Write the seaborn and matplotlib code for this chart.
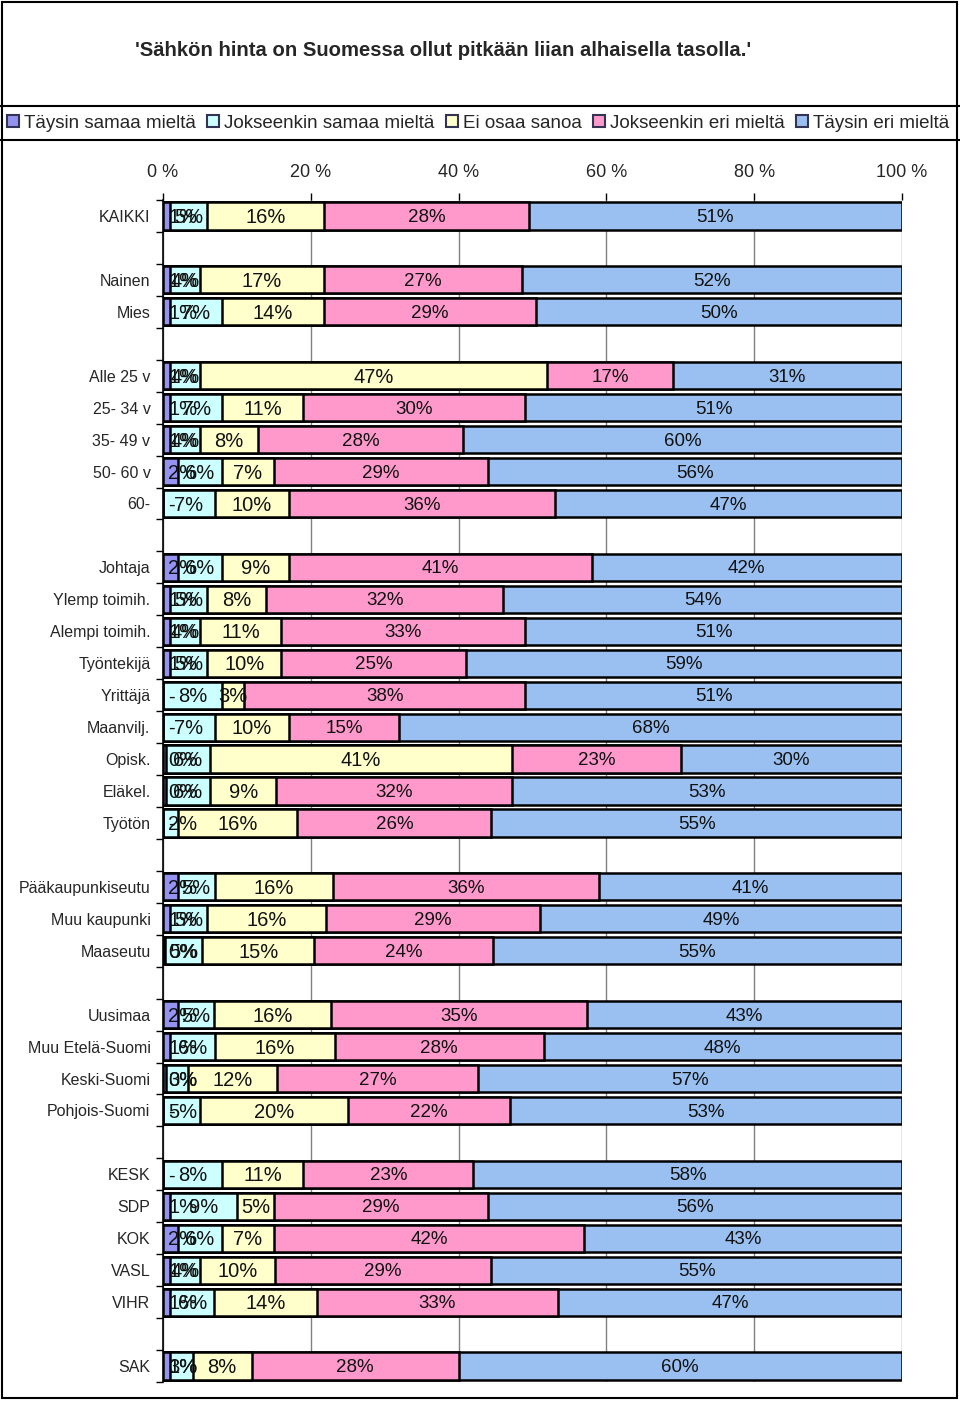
import numpy as np
import pandas as pd
import seaborn as sns
import matplotlib.pyplot as plt
from matplotlib.patches import Patch, Rectangle
from matplotlib.lines import Line2D

title = "'Sähkön hinta on Suomessa ollut pitkään liian alhaisella tasolla.'"
series_names = ['Täysin samaa mieltä', 'Jokseenkin samaa mieltä', 'Ei osaa sanoa',
                'Jokseenkin eri mieltä', 'Täysin eri mieltä']
colors = ['#9494F0', '#CCFFFF', '#FFFFCC', '#FF99CC', '#99C0F0']

categories = ['KAIKKI',
              'Nainen', 'Mies',
              'Alle 25 v', '25- 34 v', '35- 49 v', '50- 60 v', '60-',
              'Johtaja', 'Ylemp toimih.', 'Alempi toimih.', 'Työntekijä', 'Yrittäjä',
              'Maanvilj.', 'Opisk.', 'Eläkel.', 'Työtön',
              'Pääkaupunkiseutu', 'Muu kaupunki', 'Maaseutu',
              'Uusimaa', 'Muu Etelä-Suomi', 'Keski-Suomi', 'Pohjois-Suomi',
              'KESK', 'SDP', 'KOK', 'VASL', 'VIHR',
              'SAK']
# rows per block, an empty row sits between blocks
group_sizes = [1, 2, 5, 9, 3, 4, 5, 1]

taysin_samaa = [1, 1, 1, 1, 1, 1, 2, 0, 2, 1, 1, 1, 0, 0, 0.4, 0.4, 0,
                2, 1, 0.3, 2, 1, 0.4, 0, 0, 1, 2, 1, 1, 1]
jokseenkin_samaa = [5, 4, 7, 4, 7, 4, 6, 7, 6, 5, 4, 5, 8, 7, 6, 6, 2,
                    5, 5, 5, 5, 6, 3, 5, 8, 9, 6, 4, 6, 3]
ei_osaa = [16, 17, 14, 47, 11, 8, 7, 10, 9, 8, 11, 10, 3, 10, 41, 9, 16,
           16, 16, 15, 16, 16, 12, 20, 11, 5, 7, 10, 14, 8]
jokseenkin_eri = [28, 27, 29, 17, 30, 28, 29, 36, 41, 32, 33, 25, 38, 15, 23, 32, 26,
                  36, 29, 24, 35, 28, 27, 22, 23, 29, 42, 29, 33, 28]
taysin_eri = [51, 52, 50, 31, 51, 60, 56, 47, 42, 54, 51, 59, 51, 68, 30, 53, 55,
              41, 49, 55, 43, 48, 57, 53, 58, 56, 43, 55, 47, 60]

sns.set_theme(style='white')
plt.rcParams['font.family'] = ['Liberation Sans', 'DejaVu Sans']

# category order with blank rows between the blocks
order = []
i = 0
for g, n in enumerate(group_sizes):
    if g > 0:
        order.append(' ' * g)
    order.extend(categories[i:i + n])
    i += n

vals = np.array([taysin_samaa, jokseenkin_samaa, ei_osaa, jokseenkin_eri, taysin_eri]).T
pct = vals / vals.sum(axis=1, keepdims=True) * 100
cum = np.cumsum(pct, axis=1)
left = cum - pct

fig = plt.figure(figsize=(9.6, 14.01), dpi=100)
ax = fig.add_axes([163 / 960, 1 - 1382 / 1401, (902 - 163) / 960, (1382 - 200) / 1401])

# stacked bars: draw cumulative totals from the last series back to the first
for k in reversed(range(5)):
    df = pd.DataFrame({'row': categories, 'x': cum[:, k]})
    sns.barplot(data=df, x='x', y='row', order=order, orient='h', color=colors[k],
                saturation=1, edgecolor='black', linewidth=1.8, width=0.85,
                errorbar=None, ax=ax)

label_sizes = [14.5, 14.5, 14.5, 13.5, 13.5]
texts = []
for r, name in enumerate(categories):
    y = order.index(name)
    for k in range(5):
        v = vals[r, k]
        lab = '-' if v == 0 else f'{v:.0f}%'
        t = ax.text(left[r, k] + pct[r, k] / 2, y + 0.05, lab, ha='center', va='center',
                    fontsize=label_sizes[k], color='#111111')
        texts.append(t)

ax.set_xlim(0, 100)
ax.set_xlabel('')
ax.set_ylabel('')
ax.xaxis.tick_top()
ax.set_xticks(range(0, 101, 20))
ax.set_xticklabels([f'{t} %' for t in range(0, 101, 20)], fontsize=13)
ax.tick_params(axis='x', length=5, width=1, color='black', pad=9, direction='out')
ax.grid(axis='x', color='#808080', lw=1)
ax.grid(axis='y', visible=False)
ax.set_axisbelow(True)
for s in ['top', 'right', 'bottom']:
    ax.spines[s].set_visible(False)
ax.spines['left'].set_color('black')
ax.spines['left'].set_linewidth(1.2)

ax.tick_params(axis='y', which='major', length=0, pad=9, labelsize=11.5)
ax.set_yticks(np.arange(-0.5, len(order)), minor=True)
ax.tick_params(axis='y', which='minor', length=5, width=1, color='black', direction='out', left=True)

# keep labels inside the plot area like the original does
fig.canvas.draw()
renderer = fig.canvas.get_renderer()
inv = ax.transData.inverted()
for t in texts:
    bb = t.get_window_extent(renderer)
    x0 = inv.transform((bb.x0, bb.y0))[0]
    if x0 < 0.7:
        px, py = t.get_position()
        t.set_position((px + 0.7 - x0, py))

fig.text(443 / 960, 1 - 50 / 1401, title, ha='center', va='center',
         fontsize=14.6, fontweight='bold')

handles = [Patch(facecolor=c, edgecolor='#333355', linewidth=1.5, label=n)
           for c, n in zip(colors, series_names)]
fig.legend(handles=handles, loc='center', bbox_to_anchor=(0.498, 1 - 123 / 1401), ncol=5,
           frameon=False, fontsize=13.5, handlelength=0.64, handleheight=0.64,
           handletextpad=0.27, columnspacing=0.59, borderpad=0.2)

# boxes around title, legend and whole chart
fig.add_artist(Rectangle((1.5 / 960, 3 / 1401), 955 / 960, 1396 / 1401,
                         transform=fig.transFigure, fill=False, ec='black', lw=1.5))
for yy in [106, 140]:
    fig.add_artist(Line2D([0, 1], [1 - yy / 1401] * 2, transform=fig.transFigure,
                          color='black', lw=1.5))

fig.savefig('out.png', dpi=100)
